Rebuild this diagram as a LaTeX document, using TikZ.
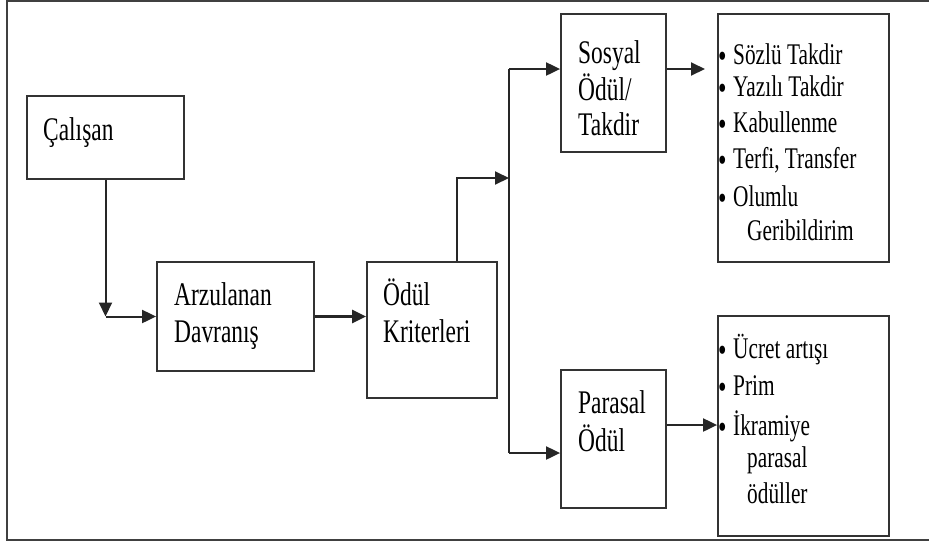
\documentclass[tikz,border=0pt]{standalone}
\usepackage{fontspec}
\newfontfamily\diafont[FakeStretch=0.71]{Liberation Serif}
\usetikzlibrary{arrows.meta}
\newcommand{\mad}{\makebox[15pt][l]{\smash{\raisebox{-3pt}{\fontsize{34}{34}\selectfont•}}}}

\begin{document}
\begin{tikzpicture}[x=1pt, y=-1pt,
	kutu/.style={draw=black!80, line width=1.8pt, inner sep=0pt},
	yazi/.style={font=\diafont\fontsize{33}{37}\selectfont, inner sep=0pt, anchor=base west},
	madde/.style={font=\diafont\fontsize{30}{34}\selectfont, inner sep=0pt, anchor=base west},
	hat/.style={line width=2pt, draw=black!85},
	ok/.style={hat, -{Triangle[length=14pt,width=13pt]}}]
			%%%%% START %%%%%
			
			\useasboundingbox (0,0) rectangle (929,542);
			\draw[line width=2.2pt, black!75] (940,1) -| (7,540) -- (940,540);
			
			% boxes
			\node[kutu, minimum width=157, minimum height=83] (calisan) at (105.5,137.5) {};
			\node[kutu, minimum width=157, minimum height=109] (arz) at (235.5,316.5) {};
			\node[kutu, minimum width=130, minimum height=136] (odul) at (432,330) {};
			\node[kutu, minimum width=105, minimum height=138] (sosyal) at (613.5,83) {};
			\node[kutu, minimum width=105, minimum height=138] (parasal) at (613.5,439) {};
			\node[kutu, minimum width=171, minimum height=248] (liste1) at (803.5,138) {};
			\node[kutu, minimum width=171, minimum height=220] (liste2) at (803.5,426) {};
			
			% box texts
			\node[yazi] (tCal) at (43,140) {Çalışan};
			\node[yazi] (tArz1) at (174,305) {Arzulanan};
			\node[yazi] (tArz2) at (174,342) {Davranış};
			\node[yazi] (tOdul1) at (383,305) {Ödül};
			\node[yazi] (tOdul2) at (383,342) {Kriterleri};
			\node[yazi] (tSos1) at (578,63) {Sosyal};
			\node[yazi] (tSos2) at (578,100) {Ödül/};
			\node[yazi] (tSos3) at (578,135) {Takdir};
			\node[yazi] (tPar1) at (578,413) {Parasal};
			\node[yazi] (tPar2) at (578,451) {Ödül};
			
			% lists
			\node[madde] (m1) at (718,64) {\mad Sözlü Takdir};
			\node[madde] (m2) at (718,96) {\mad Yazılı Takdir};
			\node[madde] (m3) at (718,132) {\mad Kabullenme};
			\node[madde] (m4) at (718,168) {\mad Terfi, Transfer};
			\node[madde] (m5) at (718,206) {\mad Olumlu};
			\node[madde] (m6) at (747,240) {Geribildirim};
			
			\node[madde] (n1) at (718,358) {\mad Ücret artışı};
			\node[madde] (n2) at (718,395) {\mad Prim};
			\node[madde] (n3) at (718,435) {\mad İkramiye};
			\node[madde] (n4) at (747,467) {parasal};
			\node[madde] (n5) at (747,503) {ödüller};
			
			% connectors
			\coordinate (kose) at (calisan.south |- arz.west);
			\draw[ok] (calisan.south) -- (kose);
			\draw[ok] (kose) -- (arz.west);
			\draw[ok, line width=2.6pt] (arz.east) -- (arz.east -| odul.west);
			
			\coordinate (kol) at (509,178);
			\coordinate (ust) at (509,69);
			\coordinate (alt) at (509,453);
			\draw[ok] ([xshift=25pt]odul.north) |- (kol);
			\draw[hat] (ust) -- (alt);
			\draw[ok] (ust) -- (ust -| sosyal.west);
			\draw[ok] (alt) -- (alt -| parasal.west);
			
			\coordinate (uc) at (705,69);
			\draw[ok] (uc -| sosyal.east) -- (uc);
			\draw[ok] ([yshift=14pt]parasal.east) -- ([yshift=14pt]parasal.east -| liste2.west);
			
			%%%%% END %%%%%
\end{tikzpicture}
\end{document}
